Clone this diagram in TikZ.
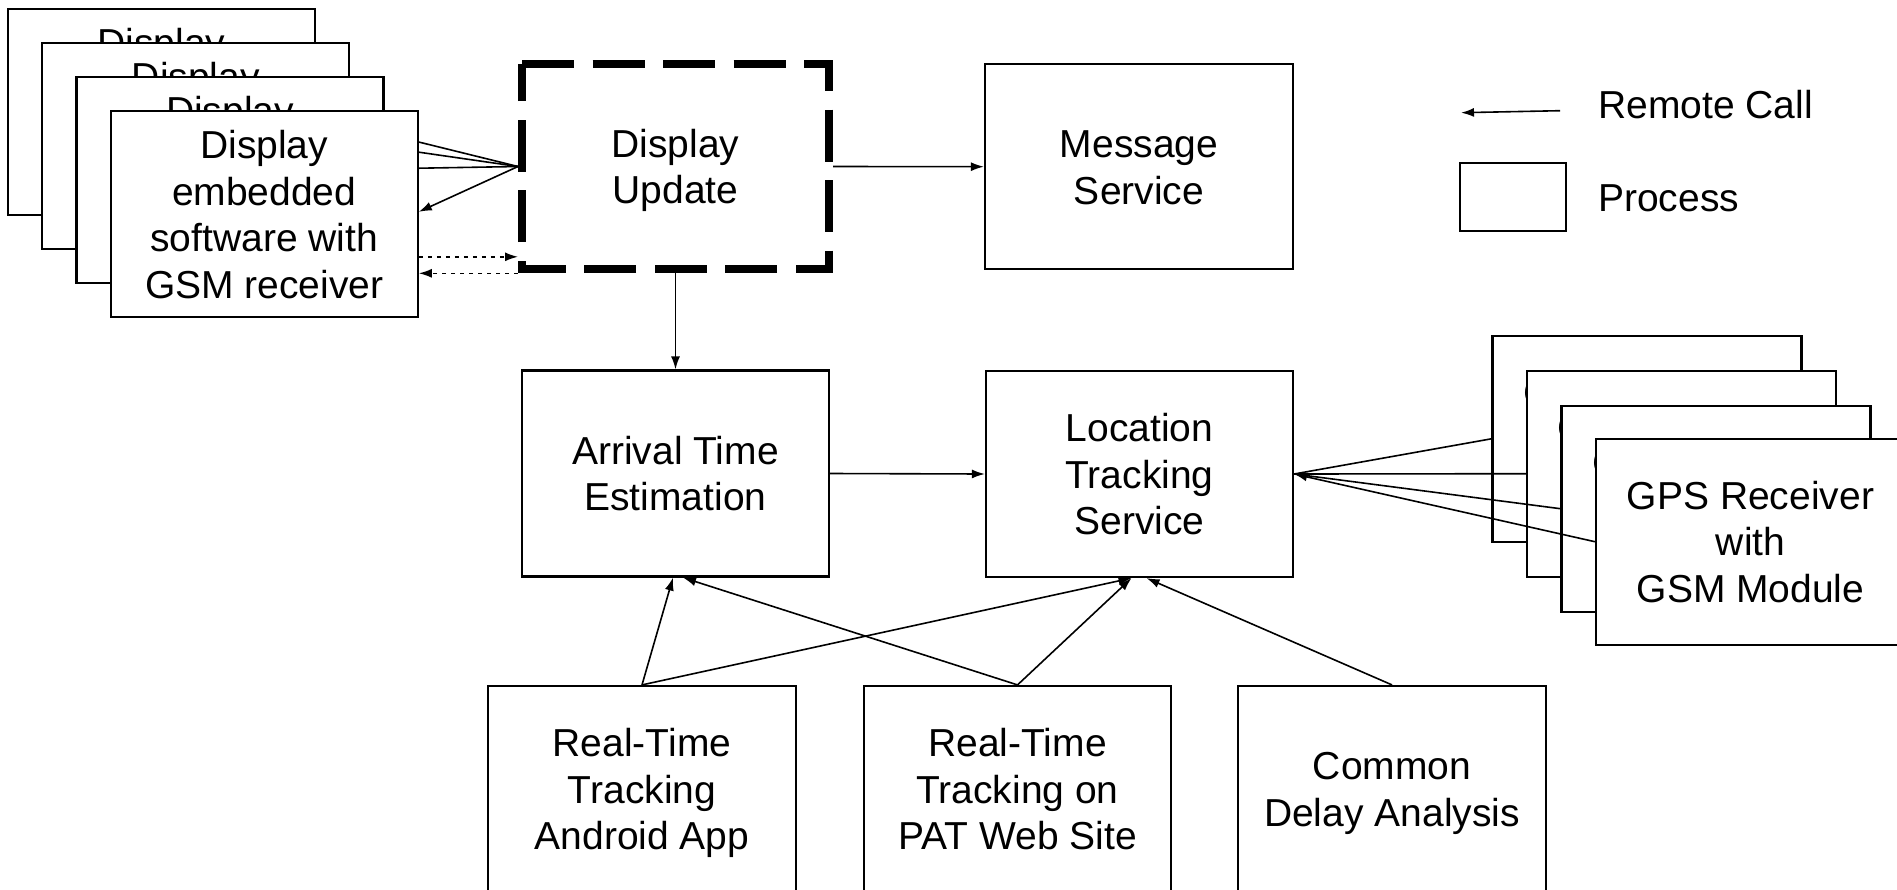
\documentclass[tikz,border=0pt]{standalone}
\usepackage{fontspec}
\setmainfont{Liberation Sans}
\usetikzlibrary{arrows.meta,calc}
% lines of a box, last baseline lowered by #1 below the node centre
\newcommand{\boxlines}[2]{\raisebox{-#1}[0pt][0pt]{\begin{tabular}[b]{@{}c@{}}#2\end{tabular}}}
\newcommand{\twol}[1]{\boxlines{37.4pt}{#1}}
\newcommand{\threel}[1]{\boxlines{60.6pt}{#1}}
\newcommand{\fourl}[1]{\boxlines{83.9pt}{#1}}
\begin{document}
\begin{tikzpicture}[x=1pt,y=-1pt,
  txt/.style={font=\fontsize{39}{46.5}\selectfont},
  proc/.style={txt, draw=black, line width=2.2pt, fill=white, minimum width=307pt, minimum height=206pt, inner sep=0pt},
  ghost/.style={txt, minimum width=307pt, minimum height=205pt, inner sep=0pt, outer sep=4pt},
  dashbox/.style={line width=7.7pt, dash pattern=on 52pt off 18.5pt, line join=miter, line cap=butt},
  arr/.style={-{Latex[length=13pt,width=9pt]}, line width=1.6pt},
  plain/.style={line width=1.6pt},
  dotarr/.style={arr, dash pattern=on 4pt off 5pt}]
\useasboundingbox (0,0) rectangle (1897,889);
\clip (0,0) rectangle (1897,889);

% Display stack (back boxes)
\node[proc] (d1) at (161.5,111.7) {\fourl{Display\\embedded\\software with\\GSM receiver}};
\node[proc] (d2) at (195.8,145.9) {\fourl{Display\\embedded\\software with\\GSM receiver}};
\node[proc] (d3) at (230.0,180.1) {\fourl{Display\\embedded\\software with\\GSM receiver}};

% Display Update (dashed)
\node[ghost] (du) at (675.5,166.5) {\twol{Display\\Update}};
\draw[dashbox] ([xshift=4pt,yshift=-4pt]du.north west) -- ([xshift=-4pt,yshift=-4pt]du.north east)
  -- ([xshift=-4pt,yshift=4pt]du.south east) -- ([xshift=4pt,yshift=4pt]du.south west) -- cycle;

% lines to back displays (hidden behind the front box)
\draw[arr] (du.west) -- ([yshift=-5pt]d1.east);
\draw[arr] (du.west) -- ([yshift=3.6pt]d2.east);
\draw[arr] (du.west) -- ([yshift=11.3pt]d3.east);

% front display box
\node[proc] (d4) at (264.2,214.3) {\fourl{Display\\embedded\\software with\\GSM receiver}};
\draw[arr] (du.west) -- ([yshift=2.5pt]d4.east);
\draw[dotarr] ([yshift=-42.5pt]d4.east) -- ([yshift=-42.5pt]d4.east -| du.west);
\draw[dotarr] ([yshift=-59pt]d4.east -| du.west) -- ([yshift=-59pt]d4.east);

% Message Service
\node[proc, minimum width=308pt, minimum height=205pt] (ms) at (1139,166.7) {\twol{Message\\Service}};
\draw[arr] (du.east) -- (ms.west);

% Arrival and Location
\node[proc] (ar) at (675.5,473.5) {\twol{Arrival Time\\Estimation}};
\node[proc] (lt) at (1139.5,474) {\threel{Location\\Tracking\\Service}};
\draw[arr] (du.south) -- (ar.north);
\draw[arr] (ar.east) -- (lt.west);

% GPS stack
\node[proc, minimum width=309pt] (g1) at (1647,438.8) {\threel{GPS Receiver\\with\\GSM Module}};
\node[proc, minimum width=309pt] (g2) at (1681.5,473.7) {\threel{GPS Receiver\\with\\GSM Module}};
\node[proc, minimum width=309pt] (g3) at (1716,508.7) {\threel{GPS Receiver\\with\\GSM Module}};
\node[proc, minimum width=309pt] (g4) at (1750.5,541.7) {\threel{GPS Receiver\\with\\GSM Module}};
\draw[plain] (g1.west) -- (lt.east);
\draw[plain] (g2.west) -- (lt.east);
\draw[plain] (g3.west) -- (lt.east);
\draw[arr] (g4.west) -- (lt.east);

% bottom boxes
\node[proc, minimum width=308pt] (an) at (642,789) {\threel{Real-Time\\Tracking\\Android App}};
\node[proc] (pat) at (1017.5,789) {\threel{Real-Time\\Tracking on\\PAT Web Site}};
\node[proc, minimum width=308pt] (cd) at (1392,789) {\twol{Common\\Delay Analysis}};
\draw[arr] (an.north) -- ([xshift=-2.5pt]ar.south);
\draw[arr] (an.north) -- ([xshift=-8pt]lt.south);
\draw[arr] (pat.north) -- ([xshift=7.5pt]ar.south);
\draw[arr] (pat.north) -- ([xshift=-8pt]lt.south);
\draw[arr] (cd.north) -- ([xshift=7pt]lt.south);

% legend
\coordinate (lgA) at (1560,110.7);
\coordinate (lgB) at (1461,112.7);
\draw[arr] (lgA) -- (lgB);
\node[txt, anchor=base west, inner sep=0pt] (rc) at (1598,118.3) {Remote Call};
\node[draw=black, line width=2.2pt, minimum width=106pt, minimum height=68pt, inner sep=0pt] (lg) at (1513,196.8) {};
\node[txt, anchor=base west, inner sep=0pt] (pr) at (1598,211.7) {Process};
\end{tikzpicture}
\end{document}
